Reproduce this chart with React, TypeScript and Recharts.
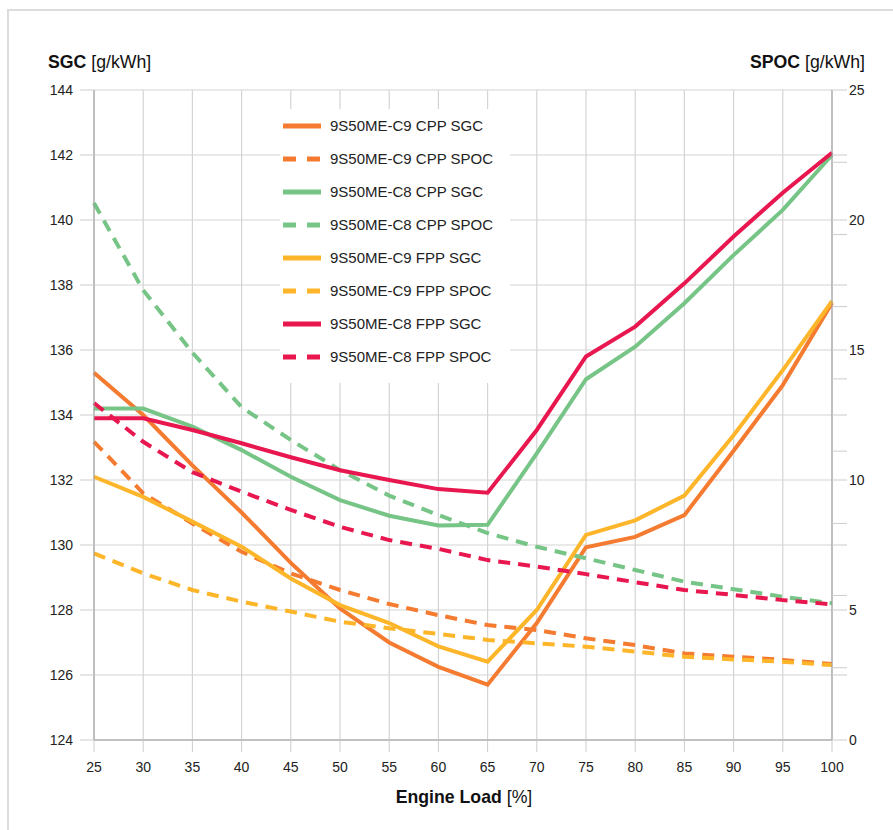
import React from 'react';
import { LineChart, Line, XAxis, YAxis, CartesianGrid, Legend } from 'recharts';

// Engine load [%]
const loads = [25, 30, 35, 40, 45, 50, 55, 60, 65, 70, 75, 80, 85, 90, 95, 100];

// SGC [g/kWh] (left axis)
const c9CppSgc = [135.3, 134.0, 132.45, 131.0, 129.45, 128.05, 127.0, 126.25, 125.7, 127.6, 129.93, 130.25, 130.92, 132.9, 134.92, 137.45];
const c8CppSgc = [134.2, 134.2, 133.64, 132.92, 132.1, 131.38, 130.9, 130.6, 130.62, 132.82, 135.1, 136.1, 137.44, 138.92, 140.31, 142.0];
const c9FppSgc = [132.1, 131.48, 130.72, 129.95, 128.97, 128.15, 127.6, 126.88, 126.41, 128.0, 130.31, 130.76, 131.52, 133.38, 135.38, 137.5];
const c8FppSgc = [133.9, 133.9, 133.54, 133.13, 132.7, 132.3, 132.0, 131.72, 131.61, 133.54, 135.8, 136.72, 138.05, 139.49, 140.84, 142.07];

// SPOC [g/kWh] (right axis)
const c9CppSpoc = [11.47, 9.49, 8.33, 7.24, 6.41, 5.77, 5.23, 4.8, 4.42, 4.23, 3.91, 3.65, 3.33, 3.2, 3.08, 2.92];
const c8CppSpoc = [20.65, 17.3, 14.9, 12.8, 11.54, 10.38, 9.4, 8.65, 7.96, 7.43, 6.99, 6.54, 6.09, 5.8, 5.51, 5.26];
const c9FppSpoc = [7.18, 6.41, 5.77, 5.32, 4.94, 4.55, 4.3, 4.08, 3.85, 3.72, 3.59, 3.4, 3.2, 3.1, 3.01, 2.88];
const c8FppSpoc = [12.96, 11.47, 10.3, 9.55, 8.85, 8.2, 7.69, 7.35, 6.92, 6.67, 6.38, 6.07, 5.77, 5.58, 5.38, 5.22];

// axis ticks
const sgcTicks = [124, 126, 128, 130, 132, 134, 136, 138, 140, 142, 144];
const spocLabelTicks = [0, 5, 10, 15, 20, 25];
const spocGridTicks = [2.5, 7.5, 12.5, 17.5, 22.5];
const spocMinorTicks = [2.78, 5.56, 8.33, 11.11, 13.89, 16.67, 19.44, 22.22];

const ORANGE = '#F47B30';
const GREEN = '#77C487';
const YELLOW = '#FDB52A';
const RED = '#E8174F';

const series = [
  { key: 'c9CppSgc', name: '9S50ME-C9 CPP SGC', values: c9CppSgc, color: ORANGE, dashed: false, axis: 'left' },
  { key: 'c9CppSpoc', name: '9S50ME-C9 CPP SPOC', values: c9CppSpoc, color: ORANGE, dashed: true, axis: 'right' },
  { key: 'c8CppSgc', name: '9S50ME-C8 CPP SGC', values: c8CppSgc, color: GREEN, dashed: false, axis: 'left' },
  { key: 'c8CppSpoc', name: '9S50ME-C8 CPP SPOC', values: c8CppSpoc, color: GREEN, dashed: true, axis: 'right' },
  { key: 'c9FppSgc', name: '9S50ME-C9 FPP SGC', values: c9FppSgc, color: YELLOW, dashed: false, axis: 'left' },
  { key: 'c9FppSpoc', name: '9S50ME-C9 FPP SPOC', values: c9FppSpoc, color: YELLOW, dashed: true, axis: 'right' },
  { key: 'c8FppSgc', name: '9S50ME-C8 FPP SGC', values: c8FppSgc, color: RED, dashed: false, axis: 'left' },
  { key: 'c8FppSpoc', name: '9S50ME-C8 FPP SPOC', values: c8FppSpoc, color: RED, dashed: true, axis: 'right' },
];

const data = loads.map((load, i) => {
  const row: Record<string, number> = { load };
  series.forEach((s) => { row[s.key] = s.values[i]; });
  return row;
});

const spocTicks = [...spocLabelTicks, ...spocGridTicks, ...spocMinorTicks].sort((a, b) => a - b);

const FONT = '"Liberation Sans", Arial, Helvetica, sans-serif';
const tickStyle = { fontSize: 14, fill: '#222', fontFamily: FONT };

const LegendBox = () => (
  <div style={{ background: '#fff', width: 230, height: 274, paddingLeft: 3, boxSizing: 'border-box', fontFamily: FONT }}>
    {series.map((s) => (
      <div key={s.key} style={{ height: 33, display: 'flex', alignItems: 'center' }}>
        <svg width={38} height={6} style={{ display: 'block' }}>
          <line x1={0} y1={3} x2={38} y2={3} stroke={s.color} strokeWidth={5}
            strokeDasharray={s.dashed ? '13 11' : undefined} />
        </svg>
        <span style={{ marginLeft: 9, fontSize: 15, color: '#222', whiteSpace: 'nowrap' }}>{s.name}</span>
      </div>
    ))}
  </div>
);

export default function App() {
  return (
    <div style={{ position: 'absolute', left: 0, top: 0, width: 893, height: 830, background: '#fff', overflow: 'hidden' }}>
      <div style={{ position: 'absolute', left: 7, top: 9, width: 900, height: 900, borderTop: '2px solid #dcdcdc', borderLeft: '2px solid #dcdcdc' }} />
      <div style={{ position: 'absolute', left: 0, top: 0 }}>
        <LineChart width={893} height={830} data={data} margin={{ top: 90, right: 0, bottom: 60, left: 0 }} style={{ fontFamily: FONT }}>
          <CartesianGrid yAxisId="left" stroke="#d4d4d4" strokeWidth={1.2} />
          <XAxis
            dataKey="load"
            type="number"
            domain={[25, 100]}
            ticks={loads}
            interval={0}
            height={30}
            tickSize={12}
            tickMargin={10}
            tick={tickStyle}
            axisLine={{ stroke: '#999' }}
            tickLine={{ stroke: '#ccc' }}
          />
          <YAxis
            yAxisId="left"
            orientation="left"
            domain={[124, 144]}
            ticks={sgcTicks}
            interval={0}
            width={94}
            tickSize={14}
            tickMargin={7}
            tick={tickStyle}
            axisLine={{ stroke: '#999' }}
            tickLine={{ stroke: '#ccc' }}
          />
          <YAxis
            yAxisId="right"
            orientation="right"
            domain={[0, 25]}
            ticks={spocTicks}
            interval={0}
            width={61}
            tickSize={15}
            tickMargin={2}
            tick={tickStyle}
            tickFormatter={(v: number) => (spocLabelTicks.includes(v) ? String(v) : '')}
            axisLine={{ stroke: '#999' }}
            tickLine={{ stroke: '#ccc' }}
          />
          <Legend
            layout="vertical"
            align="center"
            verticalAlign="middle"
            content={<LegendBox />}
            wrapperStyle={{ left: 280, top: 109, width: 230, height: 274 }}
          />
          {series.map((s) => (
            <Line
              key={s.key}
              yAxisId={s.axis}
              dataKey={s.key}
              name={s.name}
              type="linear"
              stroke={s.color}
              strokeWidth={4}
              strokeDasharray={s.dashed ? '12 8' : undefined}
              dot={false}
              activeDot={false}
              isAnimationActive={false}
            />
          ))}
        </LineChart>
      </div>
      <svg width={893} height={830} style={{ position: 'absolute', left: 0, top: 0, pointerEvents: 'none' }}>
        <text x={48} y={68} fontSize={17.7} fill="#111" fontFamily={FONT}>
          <tspan fontWeight="bold">SGC</tspan>
          <tspan> [g/kWh]</tspan>
        </text>
        <text x={865} y={68} fontSize={17.7} fill="#111" fontFamily={FONT} textAnchor="end">
          <tspan fontWeight="bold">SPOC</tspan>
          <tspan> [g/kWh]</tspan>
        </text>
        <text x={464} y={803} fontSize={17.7} fill="#111" fontFamily={FONT} textAnchor="middle">
          <tspan fontWeight="bold">Engine Load</tspan>
          <tspan> [%]</tspan>
        </text>
      </svg>
    </div>
  );
}
